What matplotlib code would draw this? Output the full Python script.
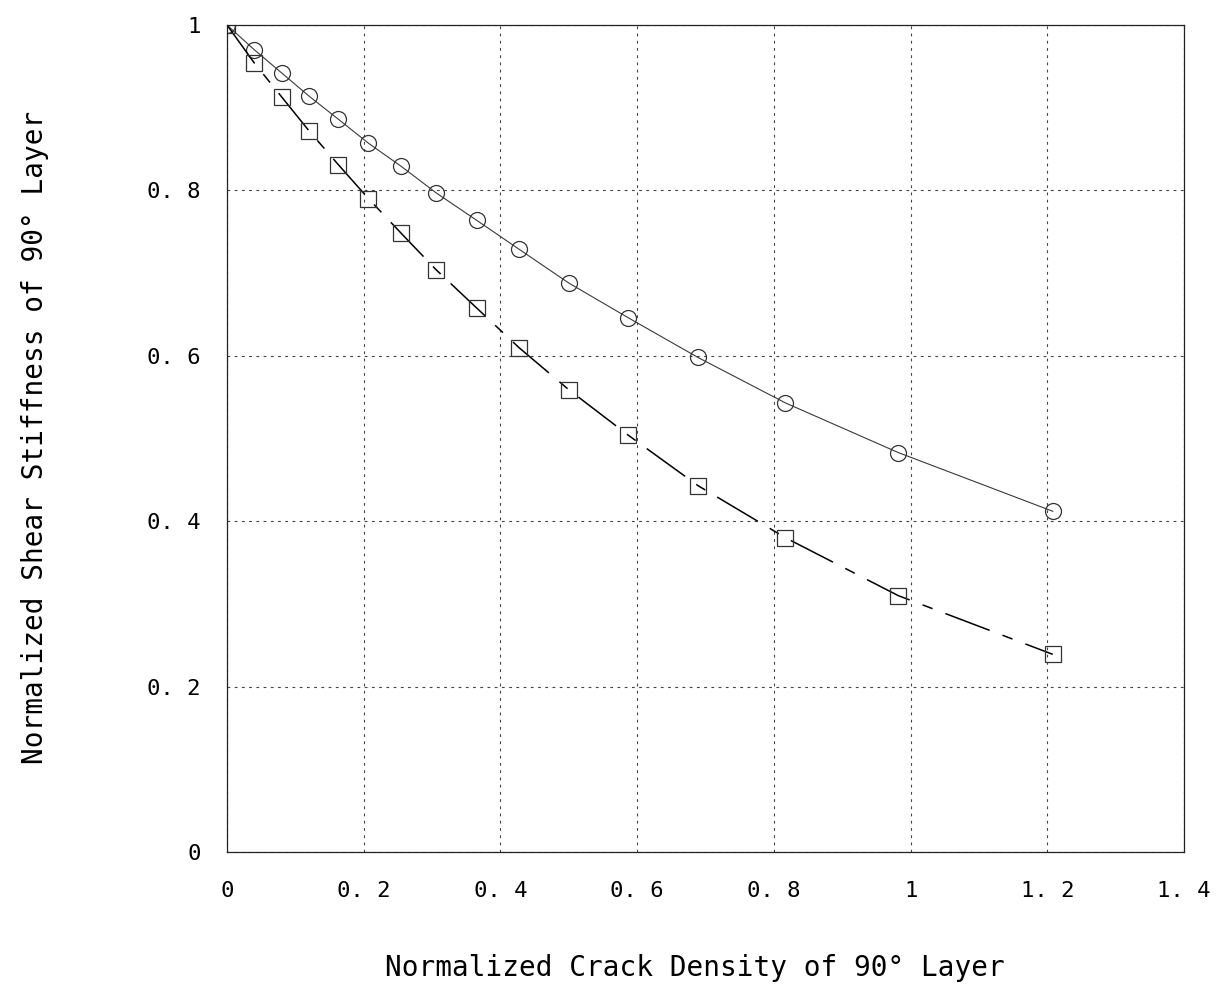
"""Normalized shear stiffness vs. crack density chart."""

import matplotlib
matplotlib.use("Agg")
import matplotlib.pyplot as plt

# crack density (shared x values of both series)
crack_density = [0.0, 0.040, 0.080, 0.120, 0.163, 0.207, 0.255, 0.306,
                 0.365, 0.427, 0.500, 0.587, 0.689, 0.817, 0.982, 1.208]
# circle series
stiffness_circle = [1.0, 0.970, 0.942, 0.914, 0.886, 0.857, 0.829, 0.797,
                    0.764, 0.729, 0.688, 0.646, 0.598, 0.543, 0.483, 0.412]
# square series
stiffness_square = [1.0, 0.954, 0.913, 0.872, 0.831, 0.790, 0.748, 0.704,
                    0.658, 0.610, 0.559, 0.504, 0.443, 0.380, 0.310, 0.239]

x_ticks = [0, 0.2, 0.4, 0.6, 0.8, 1.0, 1.2, 1.4]
x_tick_labels = ["0", "0. 2", "0. 4", "0. 6", "0. 8", "1", "1. 2", "1. 4"]
y_ticks = [0, 0.2, 0.4, 0.6, 0.8, 1.0]
y_tick_labels = ["0", "0. 2", "0. 4", "0. 6", "0. 8", "1"]

mono = "DejaVu Sans Mono"

fig = plt.figure(figsize=(12.16, 9.98), dpi=100)
ax = fig.add_axes([227 / 1216, 146 / 998, 957 / 1216, 827 / 998])

ax.plot(crack_density, stiffness_circle, color="#3a3a3a", lw=0.8,
        marker="o", markersize=11.5, markerfacecolor="none",
        markeredgecolor="#333333", markeredgewidth=0.9)
line, = ax.plot(crack_density, stiffness_square, color="black", lw=1.1,
                marker="s", markersize=11.5, markerfacecolor="none",
                markeredgecolor="#333333", markeredgewidth=0.9)
line.set_dashes((31, 9, 7, 9))
line.set_dash_capstyle("butt")

ax.set_xlim(0, 1.4)
ax.set_ylim(0, 1.0)
ax.set_xticks(x_ticks)
ax.set_xticklabels(x_tick_labels, fontfamily=mono, fontsize=16)
ax.set_yticks(y_ticks)
ax.set_yticklabels(y_tick_labels, fontfamily=mono, fontsize=16)
ax.tick_params(axis="x", length=0, pad=21)
ax.tick_params(axis="y", length=0, pad=19)

ax.grid(True, color="#444444", lw=0.8, linestyle=(0, (2.5, 4)))
ax.set_axisbelow(True)
for spine in ax.spines.values():
    spine.set_linewidth(0.9)
    spine.set_color("#222222")

fig.text(695 / 1216, 1 - 968 / 998, "Normalized Crack Density of 90° Layer",
         ha="center", va="center", fontfamily=mono, fontsize=20)
fig.text(35 / 1216, 1 - 437 / 998, "Normalized Shear Stiffness of 90° Layer",
         ha="center", va="center", rotation=90, fontfamily=mono, fontsize=20)

fig.savefig("out.png", dpi=100)
